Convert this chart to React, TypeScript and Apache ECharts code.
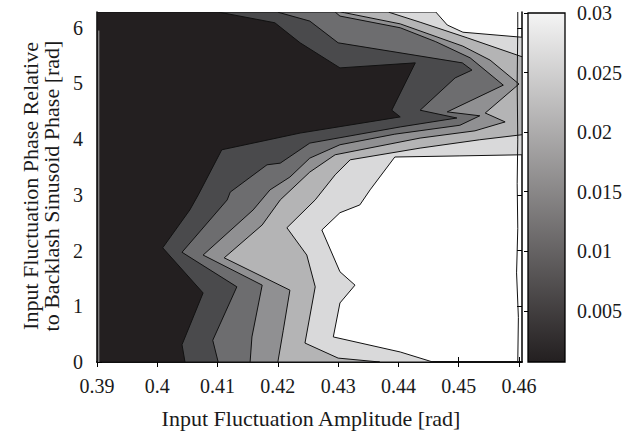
import React, { useEffect, useRef } from "react";
import * as echarts from "echarts";

const TWO_PI = 2 * Math.PI;
const ampRange = [0.39, 0.4605];
const phaseRange = [0, TWO_PI];
const xTickValues = [0.39, 0.4, 0.41, 0.42, 0.43, 0.44, 0.45, 0.46];
const yTickValues = [0, 1, 2, 3, 4, 5, 6];
const colorbarTicks = [0.005, 0.01, 0.015, 0.02, 0.025, 0.03];
const colorRange = [0.0007, 0.03];

// Contour boundaries [amplitude, phase], from bottom edge to top edge; region to the left is below the level
const contour1 = [
  [0.4046, 0], [0.4041, 0.31], [0.4076, 1.24], [0.4009, 2.05], [0.4054, 2.73], [0.4068, 3.0],
  [0.4107, 3.81], [0.4237, 4.11], [0.4403, 4.4], [0.4389, 4.52], [0.4428, 5.37], [0.4303, 5.28],
  [0.4237, 5.73], [0.4195, 6.09], [0.4101, TWO_PI],
];
const contour2 = [
  [0.4101, 0], [0.4092, 0.39], [0.4132, 1.35], [0.4041, 1.97], [0.4116, 2.91], [0.4121, 3.05],
  [0.4182, 3.54], [0.4204, 3.57], [0.4253, 3.93], [0.4403, 4.22], [0.4497, 4.38], [0.4436, 4.52],
  [0.4494, 5.1], [0.4522, 5.24], [0.4506, 5.37], [0.43, 5.73], [0.4253, 6.12], [0.4199, TWO_PI],
];
const contour3 = [
  [0.4154, 0], [0.4157, 0.45], [0.4174, 1.38], [0.4076, 1.92], [0.4159, 2.73], [0.4187, 3.09],
  [0.422, 3.32], [0.4253, 3.66], [0.4303, 3.9], [0.4394, 4.09], [0.4502, 4.25], [0.4535, 4.42],
  [0.4481, 4.49], [0.4574, 4.97], [0.4519, 5.46], [0.4462, 5.75], [0.4403, 6.0], [0.4303, 6.21],
  [0.4295, TWO_PI],
];
const contour4 = [
  [0.42, 0], [0.4209, 0.57], [0.422, 1.29], [0.4111, 1.87], [0.4174, 2.46], [0.4204, 2.91],
  [0.4253, 3.41], [0.4295, 3.72], [0.4436, 4.02], [0.4527, 4.15], [0.4577, 4.31], [0.4544, 4.47],
  [0.46, 4.99], [0.4552, 5.42], [0.4507, 5.67], [0.4403, 6.07], [0.4311, 6.27], [0.4303, TWO_PI],
];
const contour5 = [
  [0.4369, 0], [0.43, 0.07], [0.4245, 0.34], [0.4262, 1.35], [0.4248, 1.92], [0.4215, 2.41],
  [0.4262, 2.91], [0.4295, 3.36], [0.432, 3.63], [0.4436, 3.84], [0.4535, 3.99], [0.4605, 4.08],
  [0.4605, 5.48], [0.4514, 5.82], [0.4436, 6.1], [0.4383, TWO_PI],
];
const contour6 = [
  [0.4457, 0], [0.4403, 0.18], [0.4292, 0.45], [0.4303, 1.06], [0.4328, 1.38], [0.4303, 1.62],
  [0.4273, 2.37], [0.4303, 2.68], [0.4336, 2.82], [0.4353, 3.09], [0.4394, 3.68], [0.4502, 3.7],
  [0.4605, 3.72], [0.4605, 5.83], [0.4507, 5.92], [0.4481, 6.05], [0.4462, TWO_PI],
];
const rightEdgeContour = [
  [0.4598, 0], [0.4599, 0.8], [0.4596, 1.6], [0.4598, 2.4], [0.4597, 3.2], [0.4598, 4.0],
  [0.4597, 5.0], [0.4598, 6.0], [0.4598, TWO_PI],
];
const leftEdgeContour = [[0.3903, 0], [0.3903, 5.95]];

// drawn from the lightest boundary to the darkest
const boundaries = [contour6, contour5, contour4, contour3, contour2, contour1];
const bandFills = ["#d9d9da", "#b4b4b5", "#909092", "#6d6d6f", "#4a4a4c", "#231f20"];

const FONT = '"Liberation Serif", "Times New Roman", serif';
const TXT = "#1a1a1a";

export default function App() {
  const ref = useRef<HTMLDivElement>(null);
  useEffect(() => {
    if (!ref.current) return;
    const chart = echarts.init(ref.current, undefined, { renderer: "svg" });
    const tickCommon = {
      inside: true,
      length: 5,
      lineStyle: { color: "#000", width: 1 },
    };
    const option: any = {
      animation: false,
      backgroundColor: "#fff",
      grid: [
        { left: 97, top: 12, width: 425, height: 350 },
        { left: 528, top: 13, width: 38, height: 349 },
      ],
      xAxis: [
        {
          type: "value", gridIndex: 0, min: ampRange[0], max: ampRange[1], position: "bottom",
          axisLine: { show: true, lineStyle: { color: "#000", width: 1.5 } },
          axisTick: { ...tickCommon, customValues: xTickValues },
          axisLabel: { customValues: xTickValues, margin: 14, fontFamily: FONT, fontSize: 20, color: TXT },
          splitLine: { show: false },
        },
        {
          type: "value", gridIndex: 0, min: ampRange[0], max: ampRange[1], position: "top",
          axisLine: { show: true, lineStyle: { color: "#000", width: 1.5 } },
          axisTick: { ...tickCommon, customValues: xTickValues },
          axisLabel: { show: false },
          splitLine: { show: false },
        },
        {
          type: "value", gridIndex: 1, min: 0, max: 1, show: false,
        },
      ],
      yAxis: [
        {
          type: "value", gridIndex: 0, min: phaseRange[0], max: phaseRange[1], position: "left",
          axisLine: { show: true, lineStyle: { color: "#000", width: 1.5 } },
          axisTick: { ...tickCommon, customValues: yTickValues },
          axisLabel: { customValues: yTickValues, margin: 14, fontFamily: FONT, fontSize: 20, color: TXT },
          splitLine: { show: false },
        },
        {
          type: "value", gridIndex: 0, min: phaseRange[0], max: phaseRange[1], position: "right",
          axisLine: { show: true, lineStyle: { color: "#000", width: 1.5 } },
          axisTick: { ...tickCommon, customValues: yTickValues },
          axisLabel: { show: false },
          splitLine: { show: false },
        },
        {
          type: "value", gridIndex: 1, min: colorRange[0], max: colorRange[1], position: "right",
          axisLine: { show: false },
          axisTick: { ...tickCommon, length: 4, customValues: colorbarTicks },
          axisLabel: {
            customValues: colorbarTicks, margin: 12, fontFamily: FONT, fontSize: 20, color: TXT,
            formatter: (v: number) => String(+v.toFixed(4)),
          },
          splitLine: { show: false },
        },
        {
          type: "value", gridIndex: 1, min: colorRange[0], max: colorRange[1], position: "left",
          axisLine: { show: false },
          axisTick: { ...tickCommon, length: 4, customValues: colorbarTicks },
          axisLabel: { show: false },
          splitLine: { show: false },
        },
      ],
      series: [
        {
          type: "custom",
          xAxisIndex: 0,
          yAxisIndex: 0,
          clip: true,
          silent: true,
          data: boundaries.map((_, i) => [ampRange[0], phaseRange[0], i]),
          renderItem: (params: any, api: any) => {
            const i = params.dataIndex;
            const pts = boundaries[i].map((p) => api.coord(p));
            pts.push(api.coord([ampRange[0], phaseRange[1]]));
            pts.push(api.coord([ampRange[0], phaseRange[0]]));
            return {
              type: "polygon",
              shape: { points: pts },
              style: { fill: bandFills[i], stroke: "#111", lineWidth: 1 },
            };
          },
          z: 1,
        },
        {
          type: "line",
          xAxisIndex: 0,
          yAxisIndex: 0,
          data: rightEdgeContour,
          symbol: "none",
          silent: true,
          lineStyle: { color: "#111", width: 1 },
          z: 2,
        },
        {
          type: "line",
          xAxisIndex: 0,
          yAxisIndex: 0,
          data: leftEdgeContour,
          symbol: "none",
          silent: true,
          lineStyle: { color: "#a0a0a0", width: 1 },
          z: 2,
        },
        {
          type: "custom",
          xAxisIndex: 2,
          yAxisIndex: 2,
          silent: true,
          data: [[0, colorRange[0]]],
          renderItem: (params: any, api: any) => {
            const p0 = api.coord([0, colorRange[0]]);
            const p1 = api.coord([1, colorRange[1]]);
            return {
              type: "rect",
              shape: { x: p0[0], y: p1[1], width: p1[0] - p0[0], height: p0[1] - p1[1] },
              style: {
                fill: new echarts.graphic.LinearGradient(0, 0, 0, 1, [
                  { offset: 0, color: "#f4f4f4" },
                  { offset: 1, color: "#231f20" },
                ]),
                stroke: "#000",
                lineWidth: 1.3,
              },
            };
          },
        },
      ],
      graphic: [
        {
          type: "text",
          x: 311,
          y: 418,
          style: {
            text: "Input Fluctuation Amplitude [rad]",
            font: `22px ${FONT}`,
            fill: TXT,
            align: "center",
            verticalAlign: "middle",
          },
        },
        {
          type: "text",
          x: 41,
          y: 186,
          rotation: Math.PI / 2,
          style: {
            text: "Input Fluctuation Phase Relative\nto Backlash Sinusoid Phase [rad]",
            font: `22px ${FONT}`,
            lineHeight: 21,
            fill: TXT,
            align: "center",
            verticalAlign: "middle",
          },
        },
      ],
    };
    chart.setOption(option);
    return () => chart.dispose();
  }, []);
  return (
    <div
      ref={ref}
      style={{ position: "fixed", left: 0, top: 0, width: 625, height: 433 }}
    />
  );
}
